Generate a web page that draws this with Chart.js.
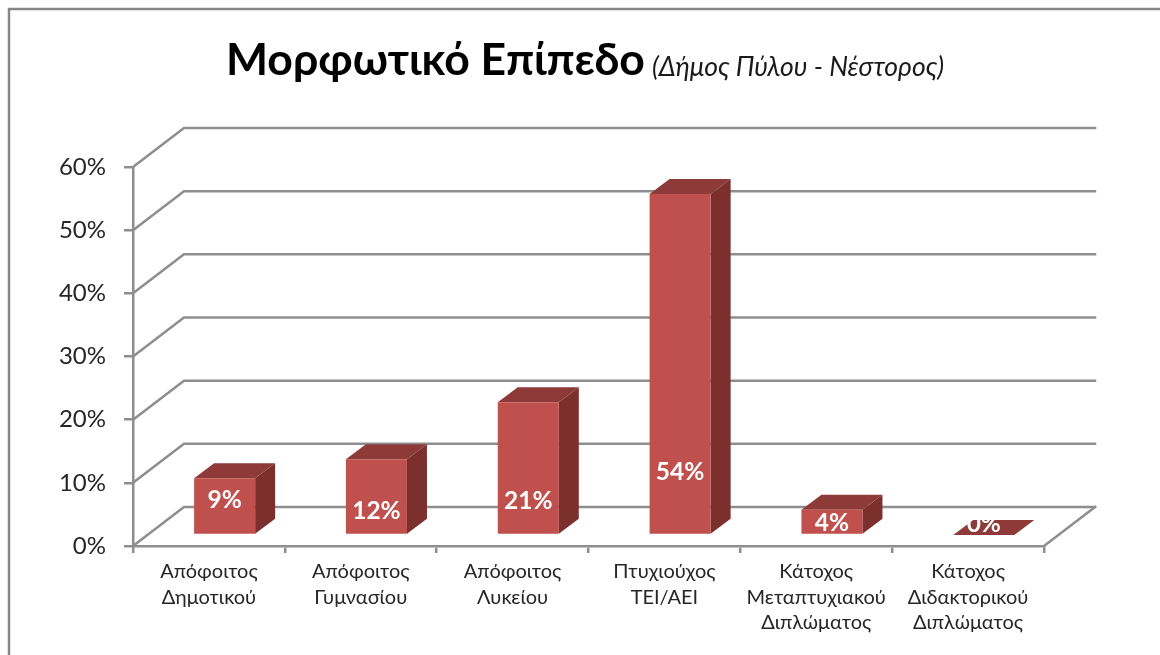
<!DOCTYPE html>
<html><head><meta charset="utf-8">
<style>html,body{margin:0;padding:0;background:#fff}#w{position:relative;width:1160px;height:655px}canvas{display:block}</style>
<script src="https://cdn.jsdelivr.net/npm/chart.js@4"></script>
</head><body><div id="w"><canvas id="c" width="1160" height="655"></canvas></div>
<script>
const categories = [
  ['Απόφοιτος','Δημοτικού'],
  ['Απόφοιτος','Γυμνασίου'],
  ['Απόφοιτος','Λυκείου'],
  ['Πτυχιούχος','ΤΕΙ/ΑΕΙ'],
  ['Κάτοχος','Μεταπτυχιακού','Διπλώματος'],
  ['Κάτοχος','Διδακτορικού','Διπλώματος']
];
const values = [9, 12, 21, 54, 4, 0];
const titleText = 'Μορφωτικό Επίπεδο';
const subtitleText = '(Δήμος Πύλου - Νέστορος)';
const labelShift = [-6, 15, 33, 108, 1, -11];
const FONT = '"Lato","Noto Sans",sans-serif';
const GRID = '#8e8e8e';
const depth = {x:51, y:39};
const barOff = {x:15.7, y:11};
const barDepth = {x:20, y:15};

const chrome = {
  id:'chrome',
  beforeDraw(chart){
    const c = chart.ctx;
    c.save();
    c.fillStyle = '#fff'; c.fillRect(0,0,chart.width,chart.height);
    c.strokeStyle = '#868686'; c.lineWidth = 2.5;
    c.beginPath(); c.moveTo(9,655); c.lineTo(9,9); c.lineTo(1160,9); c.stroke();
    c.fillStyle = '#000'; c.textBaseline='alphabetic'; c.textAlign='left';
    c.font = 'bold 44.5px '+FONT; c.fillText(titleText, 226, 75);
    c.fillStyle = '#1a1a1a';
    c.font = 'italic 26.5px '+FONT; c.fillText(subtitleText, 652, 76);
    c.restore();
  },
  beforeDatasetsDraw(chart){
    const c = chart.ctx, y = chart.scales.y, a = chart.chartArea;
    c.save();
    c.strokeStyle = GRID; c.lineWidth = 2.5; c.lineJoin='miter'; c.lineCap='square';
    y.ticks.forEach(t=>{
      const py = y.getPixelForValue(t.value);
      c.beginPath(); c.moveTo(a.left,py); c.lineTo(a.left+depth.x,py-depth.y); c.lineTo(a.right+depth.x,py-depth.y); c.stroke();
    });
    const b = y.getPixelForValue(0);
    c.beginPath(); c.moveTo(a.right,b); c.lineTo(a.right+depth.x,b-depth.y); c.stroke();
    c.restore();
  },
  beforeDatasetDraw(chart,args){
    const c = chart.ctx;
    c.save();
    c.translate(barOff.x,-barOff.y);
    chart.getDatasetMeta(args.index).data.forEach(el=>{
      const l=el.x-el.width/2, r=el.x+el.width/2;
      c.fillStyle='#8d3a38';
      c.beginPath(); c.moveTo(l,el.y); c.lineTo(r,el.y); c.lineTo(r+barDepth.x,el.y-barDepth.y); c.lineTo(l+barDepth.x,el.y-barDepth.y); c.closePath(); c.fill();
      if(el.base-el.y>0){
        c.fillStyle='#7b302e';
        c.beginPath(); c.moveTo(r,el.y); c.lineTo(r,el.base); c.lineTo(r+barDepth.x,el.base-barDepth.y); c.lineTo(r+barDepth.x,el.y-barDepth.y); c.closePath(); c.fill();
      }
    });
  },
  afterDatasetDraw(chart,args){
    const c = chart.ctx;
    c.fillStyle='#fff'; c.font='bold 24.5px '+FONT; c.textAlign='center'; c.textBaseline='middle';
    chart.getDatasetMeta(args.index).data.forEach((el,i)=>{
      c.fillText(values[i]+'%', el.x, (el.y+el.base)/2+labelShift[i]);
    });
    c.restore();
  }
};

new Chart(document.getElementById('c'),{
  type:'bar',
  data:{labels:categories,datasets:[{data:values,backgroundColor:'#c0504d',borderWidth:0,barPercentage:0.402,categoryPercentage:1}]},
  plugins:[chrome],
  options:{
    responsive:false,animation:false,
    layout:{padding:{top:167,right:116,left:0,bottom:0}},
    plugins:{legend:{display:false},tooltip:{enabled:false},title:{display:false}},
    scales:{
      x:{
        afterFit(s){s.height=109;},
        grid:{drawOnChartArea:false,color:GRID,lineWidth:2.5,tickLength:7,offset:true},
        border:{color:GRID,width:2.5},
        ticks:{color:'#262626',font:{family:FONT,size:20,lineHeight:1.27},maxRotation:0,minRotation:0,autoSkip:false,padding:6}
      },
      y:{
        min:0,max:60,
        afterFit(s){s.width=133;},
        grid:{drawOnChartArea:false,color:GRID,lineWidth:2.5,tickLength:9},
        border:{color:GRID,width:2.5},
        ticks:{stepSize:10,color:'#262626',font:{family:FONT,size:24},padding:18,callback:v=>v+'%',z:0}
      }
    }
  }
});
</script></body></html>
